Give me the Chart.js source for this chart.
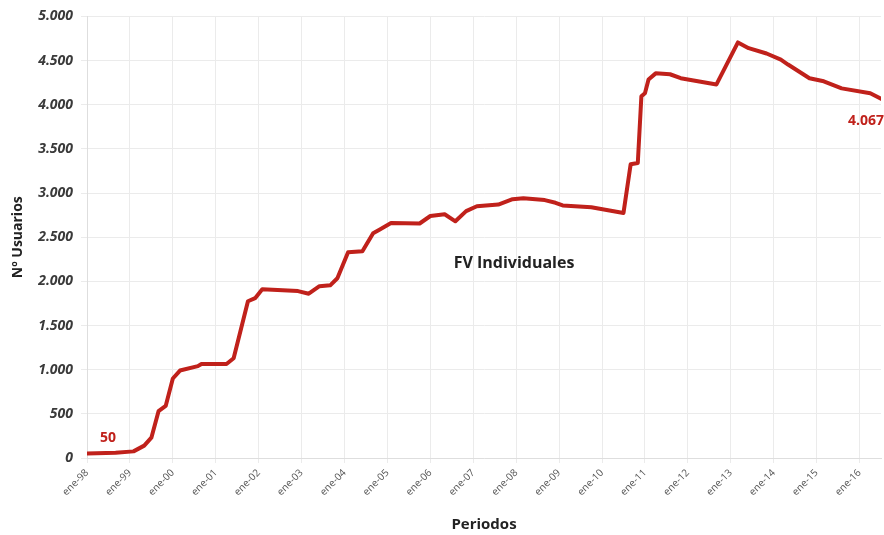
<!DOCTYPE html>
<html>
<head>
<meta charset="utf-8">
<script src="https://cdn.jsdelivr.net/npm/chart.js@4/dist/chart.umd.min.js"></script>
<style>
  body { margin: 0; background: #fff; }
  #wrap { width: 884px; height: 535px; position: relative; }
</style>
</head>
<body>
<div id="wrap"><canvas id="fv-individuales-chart"></canvas></div>
<script>
// year ticks on the x axis (one every 12 months, starting ene-98)
const tick_labels = ['ene-98', 'ene-99', 'ene-00', 'ene-01', 'ene-02', 'ene-03', 'ene-04',
  'ene-05', 'ene-06', 'ene-07', 'ene-08', 'ene-09', 'ene-10', 'ene-11', 'ene-12',
  'ene-13', 'ene-14', 'ene-15', 'ene-16']

// months since ene-98 where the line changes direction
const months = [0, 8, 13, 16, 18, 20, 22, 24, 26, 31, 32, 39, 41, 45, 47, 49, 59, 62, 65, 68,
  70, 73, 77, 80, 82, 85, 93, 96, 100, 103, 106, 109, 115, 119, 122, 128, 131, 133, 141, 150,
  152, 154, 155, 156, 157, 159, 163, 166, 176, 182, 185, 190, 194, 196, 202, 206, 211, 219, 222]

const usuarios = [50, 60, 75, 140, 230, 530, 590, 900, 990, 1040, 1065, 1065, 1130, 1775, 1810,
  1910, 1890, 1860, 1945, 1955, 2035, 2330, 2340, 2545, 2590, 2660, 2655, 2740, 2760, 2680,
  2795, 2850, 2870, 2930, 2940, 2920, 2890, 2860, 2840, 2775, 3325, 3340, 4095, 4130, 4285,
  4355, 4345, 4300, 4230, 4705, 4640, 4580, 4510, 4455, 4300, 4265, 4185, 4130, 4067]

const series_name = 'FV Individuales'
const line_red = '#c0211b'
const grid_grey = '#ebebeb'

function fmt_miles(v) {
  return String(v).replace(/\B(?=(\d{3})+(?!\d))/g, '.')
}

const points = months.map((m, i) => ({ x: m, y: usuarios[i] }))

// first/last value labels and the series name in the middle of the plot
const annotations = {
  id: 'annotations',
  afterDatasetsDraw(chart) {
    const ctx = chart.ctx
    const xs = chart.scales.x
    const ys = chart.scales.y
    const area = chart.chartArea
    ctx.save()
    ctx.fillStyle = line_red
    ctx.font = 'bold 14px "Open Sans"'
    ctx.textBaseline = 'middle'

    const first = points[0]
    ctx.textAlign = 'center'
    ctx.fillText(fmt_miles(first.y), xs.getPixelForValue(first.x) + 21, ys.getPixelForValue(first.y) - 16)

    const last = points[points.length - 1]
    ctx.textAlign = 'right'
    ctx.fillText(fmt_miles(last.y), chart.width, ys.getPixelForValue(last.y) + 22)

    ctx.fillStyle = '#222'
    ctx.font = 'bold 16px "Open Sans"'
    ctx.textAlign = 'center'
    ctx.fillText(series_name, (area.left + area.right) / 2 + 30, ys.getPixelForValue(2200))
    ctx.restore()
  }
}

const ctx = document.getElementById('fv-individuales-chart').getContext('2d')

new Chart(ctx, {
  type: 'line',
  data: {
    datasets: [
      {
        label: series_name,
        data: points,
        borderColor: line_red,
        borderWidth: 4,
        pointRadius: 0,
        tension: 0,
        borderJoinStyle: 'round',
        borderCapStyle: 'round',
        fill: false
      }
    ]
  },
  options: {
    responsive: true,
    maintainAspectRatio: false,
    animation: false,
    layout: {
      padding: { top: 16, right: 3, left: 0, bottom: 0 }
    },
    plugins: {
      legend: { display: false },
      tooltip: { enabled: false }
    },
    scales: {
      x: {
        type: 'linear',
        min: 0,
        max: 222,
        afterBuildTicks(scale) {
          scale.ticks = tick_labels.map((_, i) => ({ value: i * 12 }))
        },
        afterFit(scale) {
          scale.height = 77
        },
        ticks: {
          autoSkip: false,
          minRotation: 45,
          maxRotation: 45,
          padding: 4,
          color: '#555',
          font: { family: '"Open Sans"', size: 10 },
          callback: function(value) {
            return tick_labels[Math.round(value / 12)]
          }
        },
        grid: { color: grid_grey, tickLength: 5 },
        border: { color: '#dedede' },
        title: {
          display: true,
          text: 'Periodos',
          color: '#222',
          font: { family: '"Open Sans"', size: 15, weight: 'bold' },
          padding: { top: 4, bottom: 1 }
        }
      },
      y: {
        min: 0,
        max: 5000,
        afterFit(scale) {
          scale.width = 87
        },
        ticks: {
          stepSize: 500,
          padding: 8,
          color: '#3a3a3a',
          font: { family: '"Open Sans"', size: 14, weight: 'bold', style: 'italic' },
          callback: function(value) {
            return fmt_miles(value)
          }
        },
        grid: { color: grid_grey, tickLength: 6 },
        border: { color: '#dedede' },
        title: {
          display: true,
          text: 'Nº Usuarios',
          color: '#222',
          font: { family: '"Open Sans"', size: 14, weight: 'bold' },
          padding: { top: 10, bottom: 0 }
        }
      }
    }
  },
  plugins: [annotations]
})
</script>
</body>
</html>
